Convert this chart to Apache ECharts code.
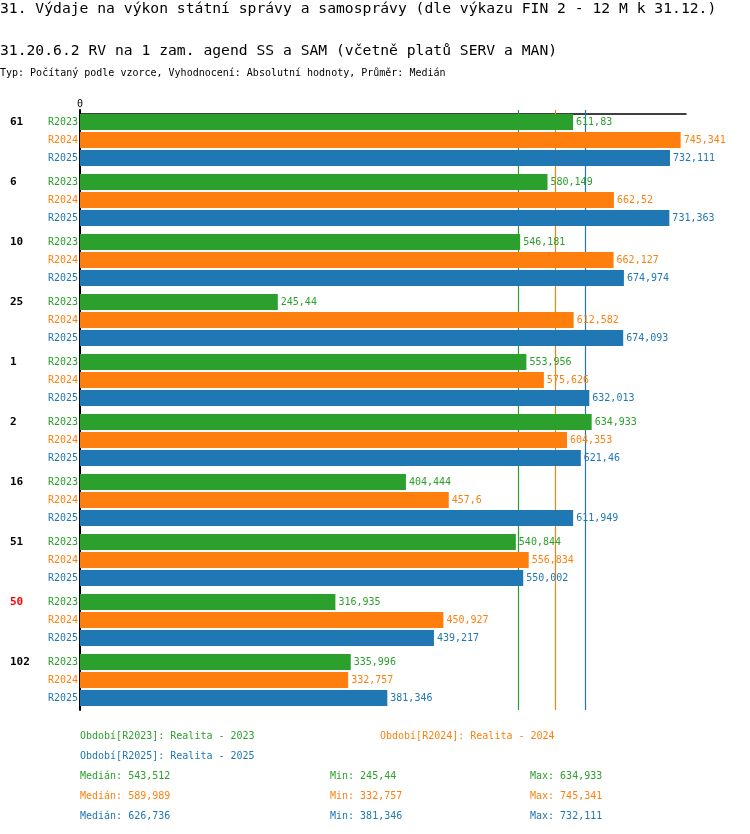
<!DOCTYPE html>
<html>
<head>
<meta charset="utf-8">
<script src="https://cdn.jsdelivr.net/npm/echarts@6/dist/echarts.min.js"></script>
<style>
html,body{margin:0;padding:0;background:#fff;}
#chart{width:750px;height:834px;}
</style>
</head>
<body>
<div id="chart"></div>
<script>
// ---- data ----
const groups = ['61', '6', '10', '25', '1', '2', '16', '51', '50', '102'];
const highlightGroup = '50';
const periods = ['R2023', 'R2024', 'R2025'];
const periodNames = ['Realita - 2023', 'Realita - 2024', 'Realita - 2025'];
const r2023 = [611.83, 580.149, 546.181, 245.44, 553.956, 634.933, 404.444, 540.844, 316.935, 335.996];
const r2024 = [745.341, 662.52, 662.127, 612.582, 575.626, 604.353, 457.6, 556.834, 450.927, 332.757];
const r2025 = [732.111, 731.363, 674.974, 674.093, 632.013, 621.46, 611.949, 550.002, 439.217, 381.346];
const xTickValues = [0];
const titleMain = '31. Výdaje na výkon státní správy a samosprávy (dle výkazu FIN 2 - 12 M k 31.12.)';
const titleSub = '31.20.6.2 RV na 1 zam. agend SS a SAM (včetně platů SERV a MAN)';
const titleInfo = 'Typ: Počítaný podle vzorce, Vyhodnocení: Absolutní hodnoty, Průměr: Medián';

// ---- styling ----
const colors = ['#2ca02c', '#ff7f0e', '#1f77b4'];
const FONT = '"DejaVu Sans Mono", "Liberation Mono", monospace';
const seriesValues = [r2023, r2024, r2025];

const fmt = v => String(v).replace('.', ',');
const trunc3 = v => Math.floor(v * 1000 + 1e-6) / 1000;
function median(arr) {
  const s = arr.slice().sort((a, b) => a - b);
  const n = s.length;
  return n % 2 ? s[(n - 1) / 2] : (s[n / 2 - 1] + s[n / 2]) / 2;
}

const series = [];
periods.forEach((p, i) => {
  // zero-length anchor bar carrying the period label at the axis start
  series.push({
    type: 'bar',
    name: p + '-label',
    stack: 's' + i,
    barWidth: 16,
    barGap: '12.5%',
    z: 3,
    silent: true,
    data: groups.map(() => 0),
    itemStyle: { color: colors[i] },
    label: {
      show: true, position: 'left', distance: 2,
      formatter: p, color: colors[i],
      fontFamily: FONT, fontSize: 10
    }
  });
  series.push({
    type: 'bar',
    name: p,
    stack: 's' + i,
    barWidth: 16,
    barGap: '12.5%',
    z: 3,
    data: seriesValues[i],
    itemStyle: { color: colors[i] },
    label: {
      show: true, position: 'right', distance: 3,
      formatter: pr => fmt(pr.value), color: colors[i],
      fontFamily: FONT, fontSize: 10
    }
  });
});
// median lines (drawn beneath the bars)
periods.forEach((p, i) => {
  const ls = { color: colors[i], width: 1.2, type: 'solid', opacity: 1 };
  series.push({
    type: 'line',
    name: p + '-median',
    z: 1,
    silent: true,
    data: [],
    color: colors[i],
    markLine: {
      silent: true, symbol: ['none', 'none'], z: 1,
      label: { show: false },
      emphasis: { disabled: true },
      lineStyle: ls,
      data: [{ xAxis: median(seriesValues[i]), lineStyle: ls }]
    }
  });
});

const graphics = [
  { type: 'text', x: 0, y: 9, style: { text: titleMain, fill: '#000', font: '14.7px ' + FONT, verticalAlign: 'middle' } },
  { type: 'text', x: 0, y: 51, style: { text: titleSub, fill: '#000', font: '14.7px ' + FONT, verticalAlign: 'middle' } },
  { type: 'text', x: 0, y: 73, style: { text: titleInfo, fill: '#000', font: '10px ' + FONT, verticalAlign: 'middle' } }
];
const legendPos = [[80, 736], [380, 736], [80, 756]];
periods.forEach((p, i) => {
  graphics.push({ type: 'text', x: legendPos[i][0], y: legendPos[i][1],
    style: { text: 'Období[' + p + ']: ' + periodNames[i], fill: colors[i], font: '10px ' + FONT, verticalAlign: 'middle' } });
  const vals = seriesValues[i];
  const y = 776 + 20 * i;
  graphics.push({ type: 'text', x: 80, y: y,
    style: { text: 'Medián: ' + fmt(trunc3(median(vals))), fill: colors[i], font: '10px ' + FONT, verticalAlign: 'middle' } });
  graphics.push({ type: 'text', x: 330, y: y,
    style: { text: 'Min: ' + fmt(Math.min(...vals)), fill: colors[i], font: '10px ' + FONT, verticalAlign: 'middle' } });
  graphics.push({ type: 'text', x: 530, y: y,
    style: { text: 'Max: ' + fmt(Math.max(...vals)), fill: colors[i], font: '10px ' + FONT, verticalAlign: 'middle' } });
});

const chart = echarts.init(document.getElementById('chart'), null, { renderer: 'canvas' });
chart.setOption({
  animation: false,
  backgroundColor: '#fff',
  graphic: graphics,
  grid: { left: 80, top: 110, width: 606, height: 600, containLabel: false },
  xAxis: {
    type: 'value', position: 'top', min: 0, max: 752, interval: 752,
    offset: -4,
    axisLine: { show: true, onZero: false, lineStyle: { color: '#000', width: 1.5 } },
    axisTick: { show: false },
    splitLine: { show: false },
    axisLabel: {
      show: true, margin: 5, color: '#000', fontFamily: FONT, fontSize: 10,
      showMaxLabel: false, customValues: xTickValues,
      formatter: v => fmt(v)
    }
  },
  yAxis: {
    type: 'category', inverse: true, data: groups,
    axisLine: { show: true, lineStyle: { color: '#000', width: 2 } },
    axisTick: { show: false },
    axisLabel: {
      align: 'left', margin: 70, padding: [0, 0, 36, 0],
      formatter: v => (v === highlightGroup ? '{h|' + v + '}' : '{n|' + v + '}'),
      rich: {
        n: { color: '#000', fontWeight: 'bold', fontFamily: FONT, fontSize: 11 },
        h: { color: '#ff0000', fontWeight: 'bold', fontFamily: FONT, fontSize: 11 }
      }
    }
  },
  series: series
});
</script>
</body>
</html>
